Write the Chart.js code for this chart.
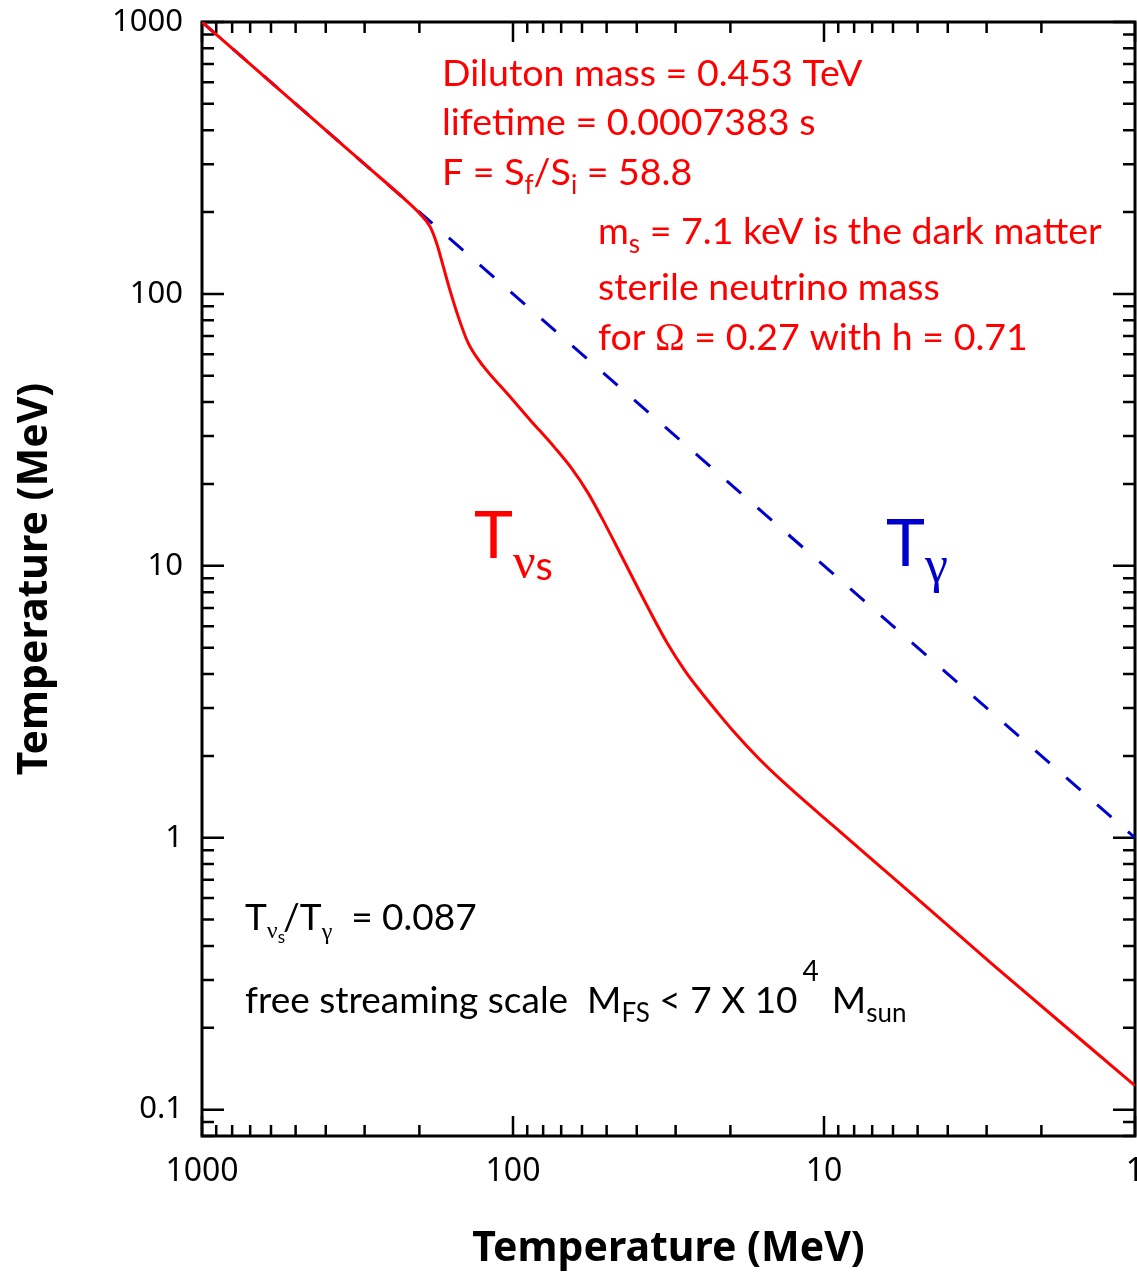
<!DOCTYPE html>
<html>
<head>
<meta charset="utf-8">
<script src="https://cdn.jsdelivr.net/npm/chart.js@4.4.1/dist/chart.umd.min.js"></script>
<style>
  html, body { margin: 0; padding: 0; background: #fff; }
  #wrap { width: 1137px; height: 1274px; }
</style>
</head>
<body>
<div id="wrap"><canvas id="chart" width="1137" height="1274"></canvas></div>
<script>
// photon temperature T_gamma (x) and sterile neutrino temperature (y), MeV
const tGamma = [1000, 500, 300, 220, 200, 184.8, 176, 167.5, 159.6, 150, 139.3, 124.4, 104.7, 88.1, 73.3, 64.62, 57.40, 50.61, 43.64, 37.64, 31.97, 27.99, 25.04, 22.08, 19.62, 16.30, 13.55, 9.35, 5.70, 2.86, 1];
const tNuS   = [1000, 500, 300, 220, 198, 176.8, 153.6, 126, 103.5, 82.5, 65.9, 54.1, 43.2, 34.4, 27.15, 22.73, 18.55, 14.27, 10.26, 7.375, 5.212, 4.111, 3.471, 2.905, 2.474, 1.968, 1.607, 1.107, 0.678, 0.341, 0.1225];

// reference line T = T_gamma
const refX = [1000, 1];
const refY = [1000, 1];

const decadesX = [1, 10, 100, 1000];
const decadesY = [0.1, 1, 10, 100, 1000];

function logTicks(lo, hi) {
  const out = [];
  for (let e = Math.floor(Math.log10(lo)); e <= Math.ceil(Math.log10(hi)); e++) {
    for (let m = 1; m <= 9; m++) {
      const v = +(m * Math.pow(10, e)).toPrecision(6);
      if (v >= lo - 1e-9 && v <= hi + 1e-9) out.push(v);
    }
  }
  return out;
}
const xTickValues = logTicks(1, 1000);
const yTickValues = logTicks(0.08, 1000);

const isDecade = v => Math.abs(Math.log10(v) - Math.round(Math.log10(v))) < 1e-6;

const LABEL_FONT = "'Noto Sans', sans-serif";
const TEXT_FONT = "Lato, 'Noto Sans', sans-serif";
const GREEK_FONT = "'Liberation Serif', 'DejaVu Serif', serif";

// frame and inward ticks on all four sides
const framePlugin = {
  id: 'frame',
  beforeDatasetsDraw(chart) {
    const { ctx, chartArea: a, scales: { x, y } } = chart;
    ctx.save();
    ctx.strokeStyle = '#000';
    ctx.lineWidth = 2.5;
    ctx.beginPath();
    xTickValues.forEach(v => {
      const px = x.getPixelForValue(v);
      const len = isDecade(v) ? 20 : 11;
      ctx.moveTo(px, a.bottom); ctx.lineTo(px, a.bottom - len);
      ctx.moveTo(px, a.top); ctx.lineTo(px, a.top + len);
    });
    yTickValues.forEach(v => {
      const py = y.getPixelForValue(v);
      const len = isDecade(v) ? 22 : 12;
      ctx.moveTo(a.left, py); ctx.lineTo(a.left + len, py);
      ctx.moveTo(a.right, py); ctx.lineTo(a.right - len, py);
    });
    ctx.stroke();
    ctx.lineWidth = 3;
    ctx.strokeRect(a.left, a.top, a.right - a.left, a.bottom - a.top);
    ctx.restore();
  }
};

function rich(ctx, x, y, runs, color) {
  let cx = x;
  ctx.fillStyle = color;
  ctx.textBaseline = 'alphabetic';
  ctx.textAlign = 'left';
  runs.forEach(r => {
    ctx.font = r.f;
    ctx.fillText(r.t, cx, y + (r.dy || 0));
    cx += ctx.measureText(r.t).width + (r.dx || 0);
  });
}

const notesPlugin = {
  id: 'notes',
  afterDraw(chart) {
    const ctx = chart.ctx;
    const big = '37.5px ' + TEXT_FONT;
    const sub = '26px ' + TEXT_FONT;
    const blk = '37px ' + TEXT_FONT;
    const red = '#ff0000';
    const blue = '#0000cc';
    ctx.save();
    rich(ctx, 442, 86, [{ t: 'Diluton mass = 0.453 TeV', f: big }], red);
    rich(ctx, 442, 135, [{ t: 'lifetime = 0.0007383 s', f: big }], red);
    rich(ctx, 442, 185, [
      { t: 'F = S', f: big }, { t: 'f', f: sub, dy: 9 }, { t: '/S', f: big },
      { t: 'i', f: sub, dy: 9 }, { t: ' = 58.8', f: big }
    ], red);
    rich(ctx, 598, 244, [
      { t: 'm', f: big }, { t: 's', f: sub, dy: 9 }, { t: ' = 7.1 keV is the dark matter', f: big }
    ], red);
    rich(ctx, 598, 300, [{ t: 'sterile neutrino mass', f: big }], red);
    rich(ctx, 598, 350, [
      { t: 'for ', f: big }, { t: 'Ω', f: '40px ' + GREEK_FONT }, { t: ' = 0.27 with h = 0.71', f: big }
    ], red);

    // curve labels
    rich(ctx, 474, 558, [
      { t: 'T', f: '66px ' + TEXT_FONT }, { t: 'ν', f: '50px ' + GREEK_FONT, dy: 20, dx: 0 },
      { t: 's', f: '40px ' + TEXT_FONT, dy: 22 }
    ], red);
    rich(ctx, 886, 566, [
      { t: 'T', f: '66px ' + TEXT_FONT }, { t: 'γ', f: '52px ' + GREEK_FONT, dy: 16 }
    ], blue);

    // ratio and free streaming scale
    rich(ctx, 245, 930, [
      { t: 'T', f: blk }, { t: 'ν', f: '24px ' + GREEK_FONT, dy: 8 },
      { t: 's', f: '17px ' + TEXT_FONT, dy: 13, dx: -2 }, { t: '/T', f: blk },
      { t: 'γ', f: '24px ' + GREEK_FONT, dy: 9 }, { t: '  = 0.087', f: blk }
    ], '#000');
    rich(ctx, 245, 1013, [
      { t: 'free streaming scale  M', f: blk }, { t: 'FS', f: sub, dy: 9 },
      { t: ' < 7 X 10', f: blk, dx: 5 }, { t: '4', f: '28px ' + TEXT_FONT, dy: -32, dx: 13 },
      { t: 'M', f: blk }, { t: 'sun', f: sub, dy: 9 }
    ], '#000');
    ctx.restore();
  }
};

new Chart(document.getElementById('chart'), {
  type: 'line',
  data: {
    datasets: [
      {
        data: tGamma.map((v, i) => ({ x: v, y: tNuS[i] })),
        borderColor: '#ff0000',
        borderWidth: 3,
        pointRadius: 0,
        cubicInterpolationMode: 'monotone',
        order: 1
      },
      {
        data: refX.map((v, i) => ({ x: v, y: refY[i] })),
        borderColor: '#0000cc',
        borderWidth: 3,
        borderDash: [19, 22],
        pointRadius: 0,
        order: 2
      }
    ]
  },
  options: {
    responsive: false,
    devicePixelRatio: 1,
    animation: false,
    layout: { padding: { top: 22, right: 2, left: 0, bottom: 0 } },
    plugins: { legend: { display: false }, tooltip: { enabled: false } },
    scales: {
      x: {
        type: 'logarithmic',
        reverse: true,
        min: 1,
        max: 1000,
        grid: { display: false, drawTicks: false },
        border: { display: false },
        afterBuildTicks: s => { s.ticks = xTickValues.map(v => ({ value: v })); },
        afterFit: s => { s.height = 138; s.paddingLeft = 0; s.paddingRight = 0; },
        ticks: {
          autoSkip: false,
          maxRotation: 0,
          padding: 17,
          color: '#000',
          font: { family: LABEL_FONT, size: 32 },
          callback: v => decadesX.includes(v) ? String(v) : ''
        },
        title: {
          display: true,
          text: 'Temperature (MeV)',
          color: '#000',
          font: { family: LABEL_FONT, size: 41, weight: 'bold' },
          padding: { top: 0, bottom: 0 }
        }
      },
      y: {
        type: 'logarithmic',
        min: 0.08,
        max: 1000,
        grid: { display: false, drawTicks: false },
        border: { display: false },
        afterBuildTicks: s => { s.ticks = yTickValues.map(v => ({ value: v })); },
        afterFit: s => { s.width = 202; s.paddingTop = 0; s.paddingBottom = 0; },
        ticks: {
          autoSkip: false,
          padding: 19,
          color: '#000',
          font: { family: LABEL_FONT, size: 31 },
          callback: v => decadesY.includes(v) ? String(v) : ''
        },
        title: {
          display: true,
          text: 'Temperature (MeV)',
          color: '#000',
          font: { family: LABEL_FONT, size: 41, weight: 'bold' },
          padding: { top: 11, bottom: 0 }
        }
      }
    }
  },
  plugins: [framePlugin, notesPlugin]
});
</script>
</body>
</html>
